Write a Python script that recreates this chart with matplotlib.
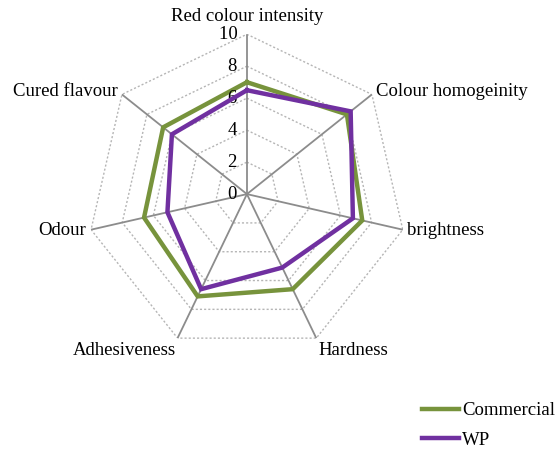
import matplotlib

matplotlib.use("Agg")
import matplotlib.pyplot as plt
import numpy as np

categories = ["Red colour intensity", "Colour homogeinity", "brightness", "Hardness",
              "Adhesiveness", "Odour", "Cured flavour"]
commercial = [7.0, 8.0, 7.4, 6.6, 7.1, 6.6, 6.7]
wp = [6.5, 8.3, 6.8, 5.1, 6.6, 5.1, 6.0]
ticks = [0, 2, 4, 6, 8, 10]

plt.rcParams["font.family"] = ["Liberation Serif", "DejaVu Serif"]

n = len(categories)
theta = np.arange(n) * 2 * np.pi / n
theta_closed = np.append(theta, theta[0])

fig = plt.figure(figsize=(5.58, 4.53), dpi=100)
ax = fig.add_axes([0.156, 0.2185, 0.573, 0.706], projection="polar")
ax.set_theta_zero_location("N")
ax.set_theta_direction(-1)
ax.set_ylim(0, 10)
ax.grid(False)
ax.spines["polar"].set_visible(False)
ax.set_xticks([])
ax.set_yticks([])
ax.patch.set_alpha(0)

# polygon grid
for level in ticks[1:]:
    ax.plot(theta_closed, [level] * (n + 1), color="#B5B5B5", lw=1.0,
            linestyle=(0, (1.5, 1.5)), zorder=1)
# spokes
for t in theta:
    ax.plot([t, t], [0, 10], color="#8C8C8C", lw=1.3, zorder=2)

ax.plot(theta_closed, commercial + commercial[:1], color="#77933C", lw=3.2,
        label="Commercial", zorder=3, solid_joinstyle="miter")
ax.plot(theta_closed, wp + wp[:1], color="#7030A0", lw=3.2, label="WP", zorder=4,
        solid_joinstyle="miter")

# tick labels on the vertical axis
for v in ticks:
    ax.text(0, v, str(v) + "  ", ha="right", va="center", fontsize=13.5,
            transform=ax.transData)

# category labels
for t, name in zip(theta, categories):
    deg = np.degrees(t)
    r = 10.3
    if deg < 1:
        ha, va = "center", "bottom"
        r = 10.55
    elif deg < 170:
        ha, va = "left", "center"
    elif deg < 190:
        ha, va = "center", "top"
    else:
        ha, va = "right", "center"
    if 120 < deg < 240:
        va = "top"
    ax.text(t, r, name, ha=ha, va=va, fontsize=13.5)

fig.legend(loc="lower right", bbox_to_anchor=(1.025, -0.028), frameon=False, fontsize=13.5,
           handlelength=2.0, handletextpad=0.15, labelspacing=0.65)
fig.savefig("out.png", dpi=100)
